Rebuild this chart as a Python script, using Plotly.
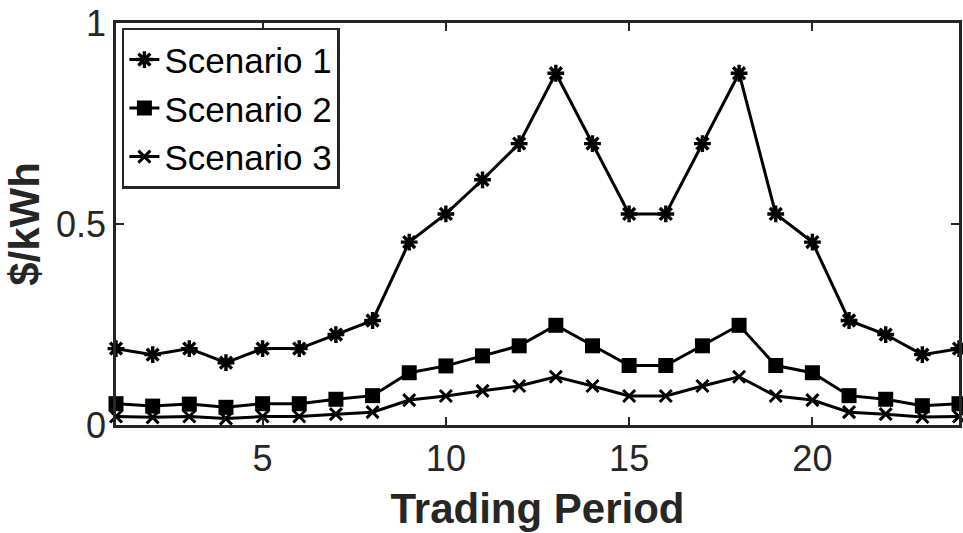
import plotly.graph_objects as go

periods = list(range(1, 25))
scenario_1 = [0.19, 0.175, 0.19, 0.155, 0.19, 0.19, 0.225, 0.26, 0.455, 0.525, 0.61, 0.70,
              0.875, 0.70, 0.525, 0.525, 0.70, 0.875, 0.525, 0.455, 0.26, 0.225, 0.175, 0.19]
scenario_2 = [0.053, 0.047, 0.052, 0.044, 0.053, 0.053, 0.064, 0.073, 0.13, 0.147, 0.172, 0.197,
              0.248, 0.197, 0.148, 0.148, 0.197, 0.248, 0.148, 0.13, 0.073, 0.064, 0.048, 0.053]
scenario_3 = [0.021, 0.019, 0.021, 0.016, 0.021, 0.021, 0.027, 0.032, 0.062, 0.072, 0.085, 0.097,
              0.12, 0.097, 0.072, 0.072, 0.097, 0.12, 0.072, 0.062, 0.032, 0.027, 0.02, 0.021]
series_names = ["Scenario 1", "Scenario 2", "Scenario 3"]
x_ticks = [5, 10, 15, 20]
y_ticks = [0, 0.5, 1]
y_tick_text = ["0", "0.5", "1"]

FONT = "Liberation Sans, Arial, sans-serif"
AXIS_COLOR = "#262626"

fig = go.Figure()

styles = [
    dict(symbol="asterisk-open", size=14, line=dict(width=3.4, color="black"), color="black"),
    dict(symbol="square", size=15, color="black", line=dict(width=0)),
    dict(symbol="x-thin-open", size=12, line=dict(width=3, color="black"), color="black"),
]

for name, values, mk in zip(series_names, [scenario_1, scenario_2, scenario_3], styles):
    fig.add_trace(go.Scatter(
        x=periods, y=values, name=name, mode="lines+markers",
        line=dict(color="black", width=3),
        marker=mk,
        cliponaxis=False,
    ))

axis_common = dict(
    showline=True, linecolor=AXIS_COLOR, linewidth=2.5, mirror="ticks",
    ticks="inside", ticklen=8, tickwidth=2, tickcolor=AXIS_COLOR,
    showgrid=False, zeroline=False,
    tickfont=dict(family=FONT, size=36, color=AXIS_COLOR),
)

fig.update_xaxes(
    range=[1, 24], tickvals=x_ticks,
    title=dict(text="<b>Trading Period</b>", font=dict(family=FONT, size=42, color=AXIS_COLOR), standoff=16),
    **axis_common,
)
fig.update_yaxes(
    range=[0, 1], tickvals=y_ticks, ticktext=y_tick_text,
    title=dict(text="<b>$/kWh</b>", font=dict(family=FONT, size=42, color=AXIS_COLOR), standoff=4),
    **axis_common,
)

fig.update_layout(
    width=963, height=533,
    margin=dict(l=116, r=1, t=23, b=108),
    paper_bgcolor="white", plot_bgcolor="white",
    showlegend=True,
    legend=dict(
        x=0.007, y=0.988, xanchor="left", yanchor="top",
        bgcolor="white", bordercolor=AXIS_COLOR, borderwidth=2.5,
        font=dict(family=FONT, size=35, color="black"),
        itemwidth=30, tracegroupgap=0,
    ),
)

fig.write_html("out.html")
